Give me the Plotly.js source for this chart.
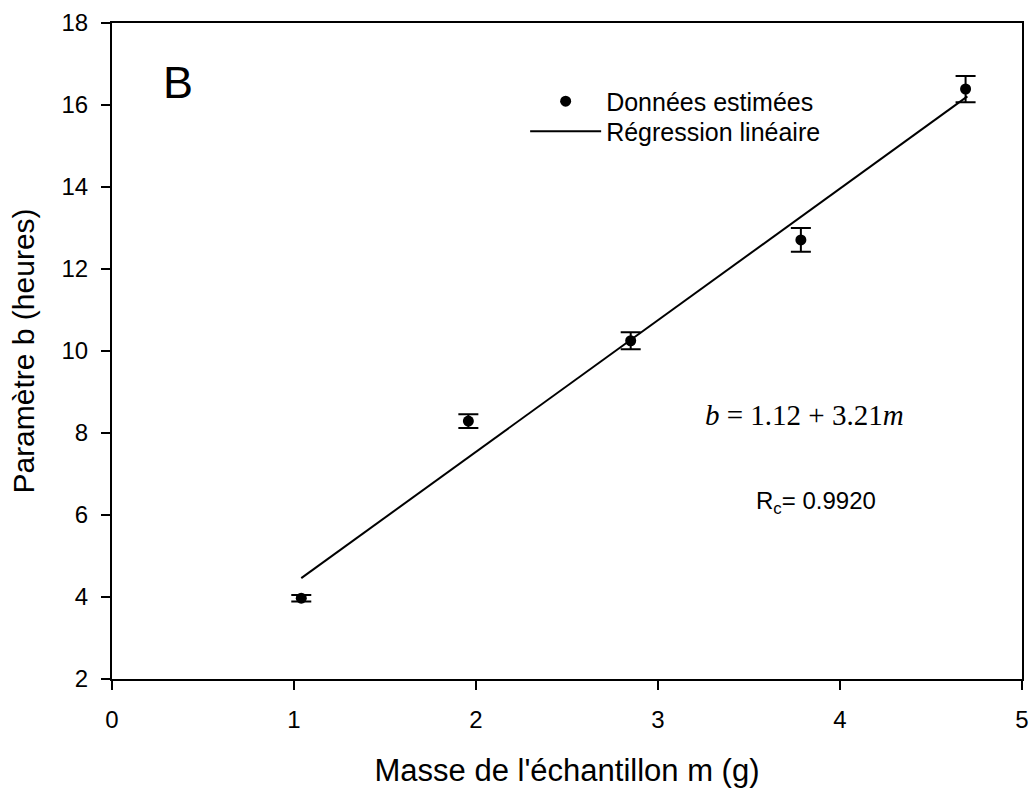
<!DOCTYPE html>
<html>
<head>
<meta charset="utf-8">
<script src="https://cdn.plot.ly/plotly-3.0.1.min.js"></script>
<style>html,body{margin:0;padding:0;background:#fff;}#chart{width:1034px;height:789px;}</style>
</head>
<body>
<div id="chart"></div>
<script>
// Data
const masses = [1.04, 1.958, 2.85, 3.785, 4.69];
const paramB = [3.97, 8.29, 10.25, 12.71, 16.39];
const paramBErr = [0.08, 0.17, 0.21, 0.29, 0.32];
const regX = [1.04, 4.70];
const regY = [4.46, 16.21];
const xTicks = [0, 1, 2, 3, 4, 5];
const yTicks = [2, 4, 6, 8, 10, 12, 14, 16, 18];

const FONT = 'Liberation Sans, Arial, sans-serif';

const traces = [
  {
    x: masses, y: paramB, type: 'scatter', mode: 'markers',
    name: 'Données estimées', legend: 'legend',
    marker: {color: '#000', size: 11, symbol: 'circle'},
    error_y: {type: 'data', array: paramBErr, visible: true, color: '#000', thickness: 2, width: 10}
  },
  {
    x: regX, y: regY, type: 'scatter', mode: 'lines',
    name: 'Régression linéaire', legend: 'legend2',
    line: {color: '#000', width: 2}
  }
];

const legendBase = {
  xanchor: 'left', yanchor: 'middle',
  bgcolor: 'rgba(0,0,0,0)', borderwidth: 0,
  itemwidth: 71,
  font: {family: FONT, size: 25, color: '#000'}
};

const layout = {
  width: 1034, height: 789,
  margin: {l: 112, r: 12, t: 22.5, b: 110},
  paper_bgcolor: '#fff', plot_bgcolor: '#fff',
  font: {family: FONT, color: '#000', size: 24},
  showlegend: true,
  legend: Object.assign({x: 0.454, y: 0.8804}, legendBase),
  legend2: Object.assign({x: 0.454, y: 0.8347}, legendBase),
  xaxis: {
    range: [0, 5], tickvals: xTicks, ticktext: xTicks.map(String),
    showline: true, linecolor: '#000', linewidth: 2, mirror: true,
    ticks: 'outside', ticklen: 9, tickwidth: 2, tickcolor: '#000',
    ticklabelstandoff: 9,
    showgrid: false, zeroline: false,
    tickfont: {family: FONT, size: 24, color: '#000'},
    title: {text: "Masse de l'échantillon m (g)", font: {family: FONT, size: 31, color: '#000'}, standoff: 28}
  },
  yaxis: {
    range: [2, 18], tickvals: yTicks, ticktext: yTicks.map(String),
    showline: true, linecolor: '#000', linewidth: 2, mirror: true,
    ticks: 'outside', ticklen: 9, tickwidth: 2, tickcolor: '#000',
    ticklabelstandoff: 8,
    showgrid: false, zeroline: false,
    tickfont: {family: FONT, size: 24, color: '#000'},
    title: {text: 'Paramètre b (heures)', font: {family: FONT, size: 30, color: '#000'}, standoff: 18}
  },
  annotations: [
    {x: 0.27, y: 16.55, xref: 'x', yref: 'y', xanchor: 'left', yanchor: 'middle', showarrow: false,
     text: 'B', font: {family: FONT, size: 45, color: '#000'}},
    {x: 3.247, y: 8.43, xref: 'x', yref: 'y', xanchor: 'left', yanchor: 'middle', showarrow: false,
     text: '<i>b</i> = 1.12 + 3.21<i>m</i>', font: {family: 'Liberation Serif, Times New Roman, serif', size: 29, color: '#000'}},
    {x: 3.53, y: 6.31, xref: 'x', yref: 'y', xanchor: 'left', yanchor: 'middle', showarrow: false,
     text: 'R<sub>c</sub>= 0.9920', font: {family: FONT, size: 24, color: '#000'}}
  ]
};

Plotly.newPlot('chart', traces, layout, {displayModeBar: false, responsive: false});
</script>
</body>
</html>
